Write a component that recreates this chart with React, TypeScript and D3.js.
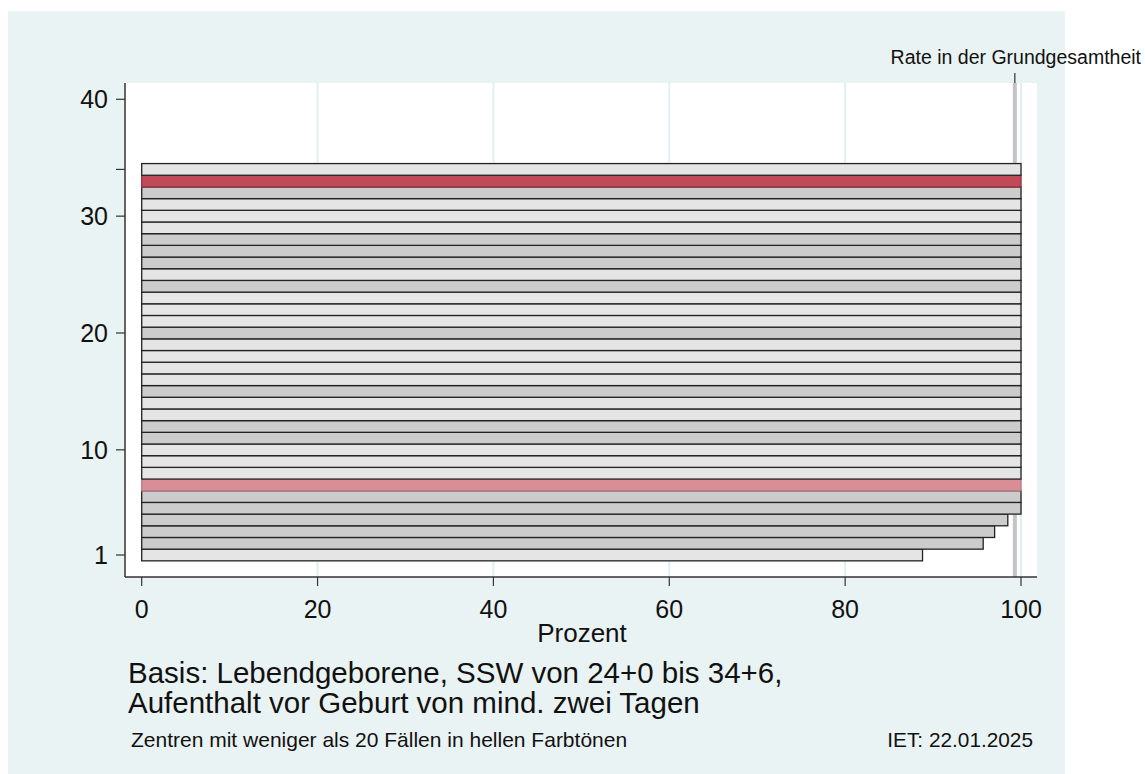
import React from "react";
import * as d3 from "d3";

// ---- data ----
const ranks = [1, 2, 3, 4, 5, 6, 7, 8, 9, 10, 11, 12, 13, 14, 15, 16, 17, 18, 19, 20, 21, 22, 23, 24, 25, 26, 27, 28, 29, 30, 31, 32, 33, 34];
const rates = [88.8, 95.7, 97.0, 98.5, 100, 100, 100, 100, 100, 100, 100, 100, 100, 100, 100, 100, 100, 100, 100, 100, 100, 100, 100, 100, 100, 100, 100, 100, 100, 100, 100, 100, 100, 100];
// S = <20 cases (light), B = >=20 cases, HS = highlighted small, HB = highlighted big
const groups = ["S", "B", "B", "B", "B", "B", "HS", "S", "S", "S", "B", "B", "S", "S", "B", "S", "S", "S", "S", "B", "S", "S", "S", "B", "S", "B", "B", "B", "S", "S", "S", "B", "HB", "S"];
const yTicks = [1, 10, 20, 30, 40];
const yExtraTicks = [34];
const xTicks = [0, 20, 40, 60, 80, 100];
const xGrid = [20, 40, 60, 80, 100];
const populationRate = 99.3;

const fills: Record<string, string> = { S: "#e5e5e5", B: "#cccccc", HS: "#d98e97", HB: "#c04a58" };
const strokes: Record<string, string> = { S: "#222222", B: "#222222", HS: "#c07a84", HB: "#9a3040" };

const FONT = "Liberation Sans, Arial, Helvetica, sans-serif";

export default function App() {
  const W = 1145, H = 774;
  const plot = { left: 125, right: 1037, top: 83, bottom: 577 };
  const x = d3.scaleLinear().domain([0, 100]).range([141.7, 1021]);
  const y = d3.scaleLinear().domain([1, 40]).range([555, 99.3]);
  const band = Math.abs(y(1) - y(2));

  return (
    <svg width={W} height={H} style={{ position: "absolute", left: 0, top: 0, fontFamily: FONT }}>
      <rect x={0} y={0} width={W} height={H} fill="#ffffff" />
      <rect x={8} y={11} width={1057} height={H - 11} fill="#eaf3f3" />
      <rect x={plot.left} y={plot.top} width={plot.right - plot.left} height={plot.bottom - plot.top} fill="#ffffff" />

      {xGrid.map((v) => (
        <line key={"g" + v} x1={x(v)} x2={x(v)} y1={plot.top} y2={plot.bottom} stroke="#e4eef1" strokeWidth={2} />
      ))}

      <line x1={x(populationRate)} x2={x(populationRate)} y1={plot.top} y2={plot.bottom} stroke="#c4c4c4" strokeWidth={4} />

      {ranks.map((r, i) => (
        <rect
          key={"b" + r}
          x={x(0)}
          y={y(r + 0.5)}
          width={x(rates[i]) - x(0)}
          height={band}
          fill={fills[groups[i]]}
          stroke={strokes[groups[i]]}
          strokeWidth={1.3}
        />
      ))}

      {/* axes */}
      <line x1={plot.left} x2={plot.left} y1={plot.top} y2={plot.bottom} stroke="#333" strokeWidth={1.5} />
      <line x1={plot.left} x2={plot.right} y1={plot.bottom} y2={plot.bottom} stroke="#333" strokeWidth={1.5} />

      {yTicks.concat(yExtraTicks).map((v) => (
        <line key={"yt" + v} x1={plot.left - 9} x2={plot.left} y1={y(v)} y2={y(v)} stroke="#333" strokeWidth={1.2} />
      ))}
      {yTicks.map((v) => (
        <text key={"yl" + v} x={108} y={y(v)} dy="0.36em" textAnchor="end" fontSize={25} fill="#111">
          {v}
        </text>
      ))}

      {xTicks.map((v) => (
        <g key={"xt" + v}>
          <line x1={x(v)} x2={x(v)} y1={plot.bottom} y2={plot.bottom + 9} stroke="#333" strokeWidth={1.2} />
          <text x={x(v)} y={618} textAnchor="middle" fontSize={25} fill="#111">
            {v}
          </text>
        </g>
      ))}

      <text x={582} y={642} textAnchor="middle" fontSize={26} fill="#111">
        Prozent
      </text>

      {/* population rate label */}
      <line x1={x(populationRate)} x2={x(populationRate)} y1={73} y2={plot.top} stroke="#333" strokeWidth={1.2} />
      <text x={1141} y={64} textAnchor="end" fontSize={19.5} fill="#111">
        Rate in der Grundgesamtheit
      </text>

      {/* notes */}
      <text x={128} y={683} fontSize={29.5} fill="#111">
        Basis: Lebendgeborene, SSW von 24+0 bis 34+6,
      </text>
      <text x={128} y={713} fontSize={29.5} fill="#111">
        Aufenthalt vor Geburt von mind. zwei Tagen
      </text>
      <text x={131} y={747} fontSize={21} fill="#111">
        Zentren mit weniger als 20 Fällen in hellen Farbtönen
      </text>
      <text x={1033} y={747} textAnchor="end" fontSize={20.8} fill="#111">
        IET: 22.01.2025
      </text>
    </svg>
  );
}
